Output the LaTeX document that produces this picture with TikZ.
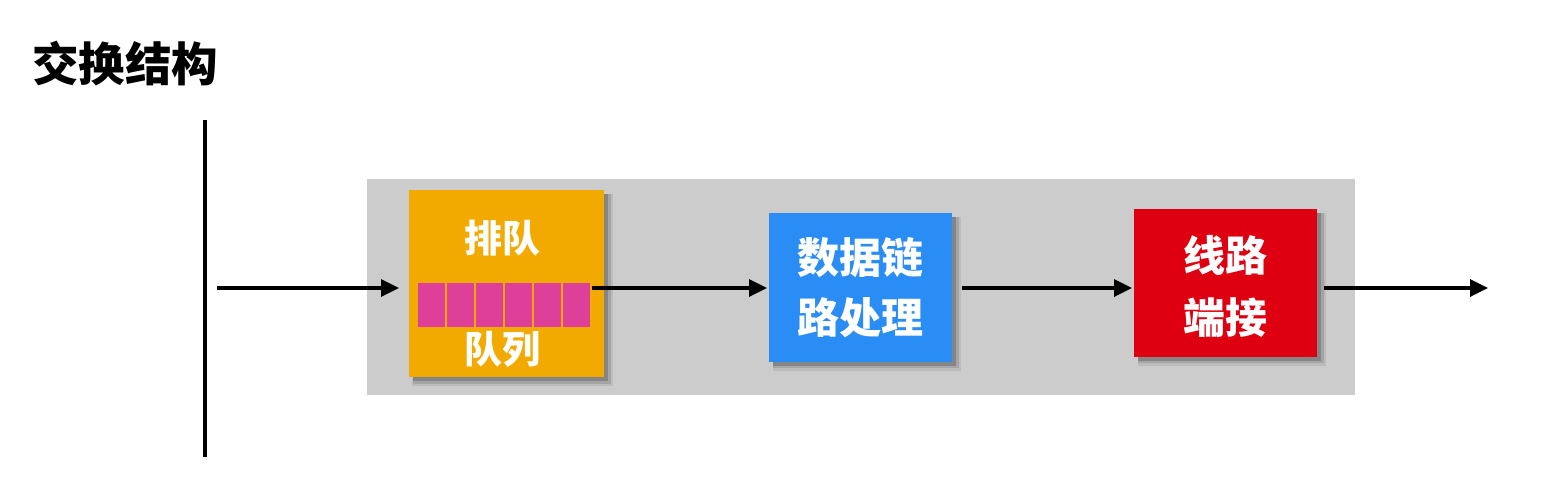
\documentclass[tikz,border=0pt]{standalone}
\usepackage{fontspec}
\newfontfamily\cjk{Noto Sans CJK SC}
\usetikzlibrary{shadows,arrows.meta}
\definecolor{qorange}{HTML}{F2AA00}
\definecolor{qpink}{HTML}{DE3F98}
\definecolor{dblue}{HTML}{2A8DF5}
\definecolor{lred}{HTML}{DE0010}
\definecolor{panel}{HTML}{CCCCCC}
\tikzset{
  stagebox/.style={draw=none, inner sep=0pt, text=white,
    font=\cjk\bfseries, align=center,
    drop shadow={shadow xshift=6pt, shadow yshift=-6pt, shadow scale=1.03, fill=black!70, opacity=0.12},
    drop shadow={shadow xshift=5pt, shadow yshift=-5pt, shadow scale=1.015, fill=black!70, opacity=0.2},
    drop shadow={shadow xshift=4pt, shadow yshift=-4pt, fill=black!70, opacity=0.35}},
  flow/.style={line width=3.4pt, -{Triangle[length=18pt,width=17pt]}},
  cell/.style={fill=qpink, draw=qorange, line width=1.5pt, minimum width=29pt, minimum height=46pt, inner sep=0pt}
}
\begin{document}
\begin{tikzpicture}[x=1pt,y=-1pt]
\useasboundingbox (0,0) rectangle (1548,490);
\fill[white] (0,0) rectangle (1548,490);
% title
\node[font=\cjk\bfseries\fontsize{46.5}{50}\selectfont, anchor=west, inner sep=0pt] (title) at (32,64) {交换结构};
% vertical line
\coordinate (vtop) at (205,120);
\coordinate (vbot) at (205,457);
\draw[line width=3.2pt] (vtop) -- (vbot);
% gray panel
\node[fill=panel, minimum width=988pt, minimum height=216pt, inner sep=0pt, anchor=north west] (panel) at (367,179) {};
% orange queue box
\node[stagebox, fill=qorange, minimum width=195pt, minimum height=187pt, anchor=north west] (queue) at (409,190) {};
\node[text=white, font=\cjk\bfseries\fontsize{38}{40}\selectfont, inner sep=0pt] (qtop) at (502,238) {排队};
\node[text=white, font=\cjk\bfseries\fontsize{38}{40}\selectfont, inner sep=0pt] (qbot) at (502,349) {队列};
\foreach \i in {0,...,5} {
  \node[cell, anchor=north west] (c\i) at ({416+\i*29},281) {};
}
% blue box
\node[stagebox, fill=dblue, minimum width=183pt, minimum height=149pt, anchor=north west] (dlink) at (769,213) {};
\node[text=white, font=\cjk\bfseries\fontsize{42}{60}\selectfont, align=center, inner sep=0pt] (dtext) at (860,288) {数据链\\路处理};
% red box
\node[stagebox, fill=lred, minimum width=183pt, minimum height=148pt, anchor=north west] (line) at (1134,209) {};
\node[text=white, font=\cjk\bfseries\fontsize{42}{62}\selectfont, align=center, inner sep=0pt] (ltext) at (1225,286) {线路\\端接};
% arrows
\coordinate (in) at (217,288);
\coordinate (out) at (1488,288);
\coordinate (a1end) at (399,288);
\coordinate (a2end) at (767,288);
\coordinate (a3end) at (1132,288);
\draw[flow] (in) -- (a1end);
\draw[flow] (c5.east |- in) -- (a2end);
\draw[flow] (dlink.east |- in) ++(10,0) -- (a3end);
\draw[flow] (line.east |- in) ++(7,0) -- (out);
\end{tikzpicture}
\end{document}
